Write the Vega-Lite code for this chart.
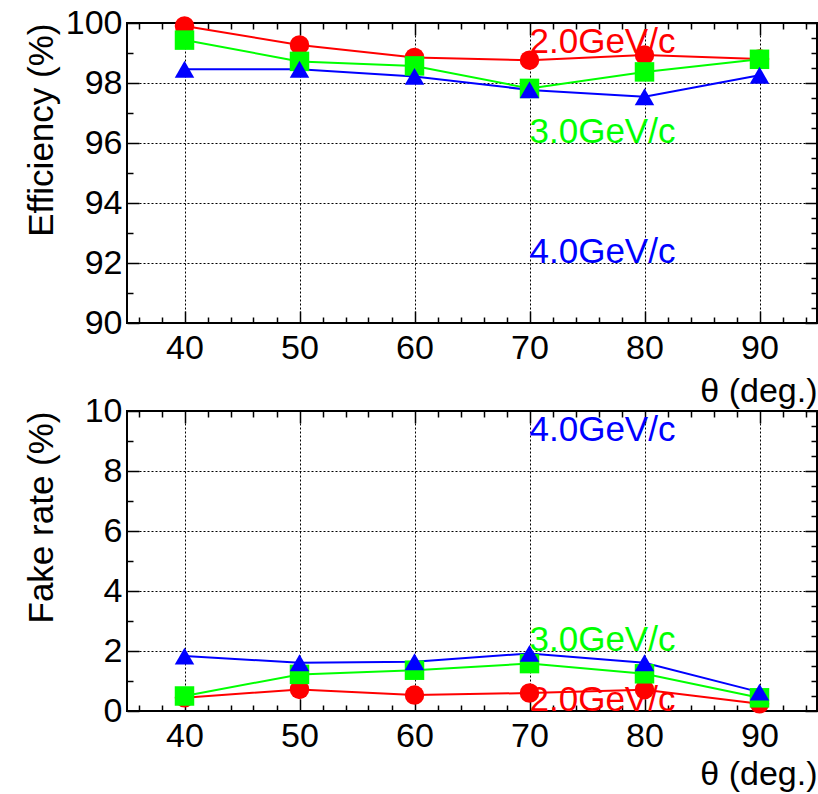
{
  "$schema": "https://vega.github.io/schema/vega-lite/v6.json",
  "background": "white",
  "padding": {"left": 22, "top": 5, "right": 3, "bottom": 2},
  "config": {
    "view": {"stroke": "black", "strokeWidth": 2},
    "font": "Liberation Sans"
  },
  "datasets": {
    "eff": [
      {"theta": 40, "series": "2.0", "value": 99.9},
      {"theta": 50, "series": "2.0", "value": 99.27},
      {"theta": 60, "series": "2.0", "value": 98.85},
      {"theta": 70, "series": "2.0", "value": 98.76},
      {"theta": 80, "series": "2.0", "value": 98.93},
      {"theta": 90, "series": "2.0", "value": 98.8},
      {"theta": 40, "series": "3.0", "value": 99.43},
      {"theta": 50, "series": "3.0", "value": 98.72},
      {"theta": 60, "series": "3.0", "value": 98.57},
      {"theta": 70, "series": "3.0", "value": 97.82},
      {"theta": 80, "series": "3.0", "value": 98.37},
      {"theta": 90, "series": "3.0", "value": 98.79},
      {"theta": 40, "series": "4.0", "value": 98.46},
      {"theta": 50, "series": "4.0", "value": 98.46},
      {"theta": 60, "series": "4.0", "value": 98.22},
      {"theta": 70, "series": "4.0", "value": 97.77},
      {"theta": 80, "series": "4.0", "value": 97.54},
      {"theta": 90, "series": "4.0", "value": 98.26}
    ],
    "fake": [
      {"theta": 40, "series": "2.0", "value": 0.44},
      {"theta": 50, "series": "2.0", "value": 0.72},
      {"theta": 60, "series": "2.0", "value": 0.53},
      {"theta": 70, "series": "2.0", "value": 0.6},
      {"theta": 80, "series": "2.0", "value": 0.71},
      {"theta": 90, "series": "2.0", "value": 0.24},
      {"theta": 40, "series": "3.0", "value": 0.5},
      {"theta": 50, "series": "3.0", "value": 1.22},
      {"theta": 60, "series": "3.0", "value": 1.36},
      {"theta": 70, "series": "3.0", "value": 1.58},
      {"theta": 80, "series": "3.0", "value": 1.24},
      {"theta": 90, "series": "3.0", "value": 0.44},
      {"theta": 40, "series": "4.0", "value": 1.83},
      {"theta": 50, "series": "4.0", "value": 1.61},
      {"theta": 60, "series": "4.0", "value": 1.64},
      {"theta": 70, "series": "4.0", "value": 1.92},
      {"theta": 80, "series": "4.0", "value": 1.61},
      {"theta": 90, "series": "4.0", "value": 0.63}
    ],
    "labEff": [
      {"theta": 70, "value": 99.0, "series": "2.0", "label": "2.0GeV/c"},
      {"theta": 70, "value": 96.0, "series": "3.0", "label": "3.0GeV/c"},
      {"theta": 70, "value": 92.0, "series": "4.0", "label": "4.0GeV/c"}
    ],
    "labFake": [
      {"theta": 70, "value": 9.0, "series": "4.0", "label": "4.0GeV/c"},
      {"theta": 70, "value": 2.0, "series": "3.0", "label": "3.0GeV/c"},
      {"theta": 70, "value": 0.0, "series": "2.0", "label": "2.0GeV/c"}
    ]
  },
  "spacing": 88,
  "bounds": "flush",
  "vconcat": [
    {
      "width": 690,
      "height": 300,
      "layer": [
        {
          "data": {"name": "eff"},
          "mark": {"type": "line", "strokeWidth": 2},
          "encoding": {
            "x": {"field": "theta", "type": "quantitative",
              "scale": {"domain": [35, 95], "nice": false, "zero": false},
              "axis": {"orient": "bottom", "values": [36,38,40,42,44,46,48,50,52,54,56,58,60,62,64,66,68,70,72,74,76,78,80,82,84,86,88,90,92,94], "format": "d",
                "labelExpr": "datum.value % 10 == 0 ? datum.label : ''", "labelFontSize": 34, "labelColor": "black", "labelPadding": 20, "labelFlush": false, "labelOverlap": false,
                "tickColor": "black", "tickWidth": 1.5, "tickSize": {"condition": {"test": "datum.value % 10 == 0", "value": -12}, "value": -6},
                "grid": true, "gridColor": "black", "gridDash": [2, 2], "gridWidth": 1, "gridOpacity": {"condition": {"test": "datum.value % 10 == 0", "value": 1}, "value": 0},
                "domain": false, "title": "θ (deg.)", "titleFontSize": 34, "titleFontWeight": "normal", "titleColor": "black", "titleAnchor": "end", "titlePadding": 3}},
            "y": {"field": "value", "type": "quantitative",
              "scale": {"domain": [90, 100], "nice": false, "zero": false},
              "axis": {"orient": "left", "values": [90,90.5,91,91.5,92,92.5,93,93.5,94,94.5,95,95.5,96,96.5,97,97.5,98,98.5,99,99.5,100], "format": "d",
                "labelExpr": "datum.value % 2 == 0 ? datum.label : ''", "labelFontSize": 34, "labelColor": "black", "labelPadding": 17, "labelFlush": false, "labelOverlap": false,
                "tickColor": "black", "tickWidth": 1.5, "tickSize": {"condition": {"test": "datum.value % 2 == 0", "value": -12}, "value": -6},
                "grid": true, "gridColor": "black", "gridDash": [2, 2], "gridWidth": 1, "gridOpacity": {"condition": {"test": "datum.value % 2 == 0", "value": 1}, "value": 0},
                "domain": false, "title": "Efficiency (%)", "titleFontSize": 35, "titleFontWeight": "normal", "titleColor": "black", "titleAnchor": "end", "titleBaseline": "bottom", "titleX": -68}},
            "color": {"field": "series", "type": "nominal", "scale": {"domain": ["2.0", "3.0", "4.0"], "range": ["#ff0000", "#00ff00", "#0000ff"]}, "legend": null}
          }
        },
        {
          "data": {"name": "eff"},
          "mark": {"type": "point", "filled": true, "opacity": 1},
          "encoding": {
            "x": {"field": "theta", "type": "quantitative",
              "scale": {"domain": [35, 95], "nice": false, "zero": false},
              "axis": {"orient": "top", "values": [36,38,40,42,44,46,48,50,52,54,56,58,60,62,64,66,68,70,72,74,76,78,80,82,84,86,88,90,92,94],
                "labels": false, "grid": false, "domain": false, "title": null,
                "tickColor": "black", "tickWidth": 1.5, "tickSize": {"condition": {"test": "datum.value % 10 == 0", "value": -12}, "value": -6}}},
            "y": {"field": "value", "type": "quantitative",
              "scale": {"domain": [90, 100], "nice": false, "zero": false},
              "axis": {"orient": "right", "values": [90,90.5,91,91.5,92,92.5,93,93.5,94,94.5,95,95.5,96,96.5,97,97.5,98,98.5,99,99.5,100],
                "labels": false, "grid": false, "domain": false, "title": null,
                "tickColor": "black", "tickWidth": 1.5, "tickSize": {"condition": {"test": "datum.value % 2 == 0", "value": -12}, "value": -6}}},
            "color": {"field": "series", "type": "nominal", "scale": {"domain": ["2.0", "3.0", "4.0"], "range": ["#ff0000", "#00ff00", "#0000ff"]}, "legend": null},
            "shape": {"field": "series", "type": "nominal", "scale": {"domain": ["2.0", "3.0", "4.0"], "range": ["circle", "square", "triangle-up"]}, "legend": null},
            "size": {"field": "series", "type": "nominal", "scale": {"domain": ["2.0", "3.0", "4.0"], "range": [380, 380, 480]}, "legend": null}
          }
        },
        {
          "data": {"name": "labEff"},
          "mark": {"type": "text", "align": "left", "baseline": "alphabetic", "fontSize": 35},
          "encoding": {
            "x": {"field": "theta", "type": "quantitative", "scale": {"domain": [35, 95], "nice": false, "zero": false}, "axis": null},
            "y": {"field": "value", "type": "quantitative", "scale": {"domain": [90, 100], "nice": false, "zero": false}, "axis": null},
            "text": {"field": "label"},
            "color": {"field": "series", "type": "nominal", "scale": {"domain": ["2.0", "3.0", "4.0"], "range": ["#ff0000", "#00ff00", "#0000ff"]}, "legend": null}
          }
        }
      ],
      "resolve": {"axis": {"x": "independent", "y": "independent"}}
    },
    {
      "width": 690,
      "height": 300,
      "layer": [
        {
          "data": {"name": "fake"},
          "mark": {"type": "line", "strokeWidth": 2},
          "encoding": {
            "x": {"field": "theta", "type": "quantitative",
              "scale": {"domain": [35, 95], "nice": false, "zero": false},
              "axis": {"orient": "bottom", "values": [36,38,40,42,44,46,48,50,52,54,56,58,60,62,64,66,68,70,72,74,76,78,80,82,84,86,88,90,92,94], "format": "d",
                "labelExpr": "datum.value % 10 == 0 ? datum.label : ''", "labelFontSize": 34, "labelColor": "black", "labelPadding": 20, "labelFlush": false, "labelOverlap": false,
                "tickColor": "black", "tickWidth": 1.5, "tickSize": {"condition": {"test": "datum.value % 10 == 0", "value": -12}, "value": -6},
                "grid": true, "gridColor": "black", "gridDash": [2, 2], "gridWidth": 1, "gridOpacity": {"condition": {"test": "datum.value % 10 == 0", "value": 1}, "value": 0},
                "domain": false, "title": "θ (deg.)", "titleFontSize": 34, "titleFontWeight": "normal", "titleColor": "black", "titleAnchor": "end", "titlePadding": -2}},
            "y": {"field": "value", "type": "quantitative",
              "scale": {"domain": [0, 10], "nice": false, "zero": false},
              "axis": {"orient": "left", "values": [0,0.5,1,1.5,2,2.5,3,3.5,4,4.5,5,5.5,6,6.5,7,7.5,8,8.5,9,9.5,10], "format": "d",
                "labelExpr": "datum.value % 2 == 0 ? datum.label : ''", "labelFontSize": 34, "labelColor": "black", "labelPadding": 17, "labelFlush": false, "labelOverlap": false,
                "tickColor": "black", "tickWidth": 1.5, "tickSize": {"condition": {"test": "datum.value % 2 == 0", "value": -12}, "value": -6},
                "grid": true, "gridColor": "black", "gridDash": [2, 2], "gridWidth": 1, "gridOpacity": {"condition": {"test": "datum.value % 2 == 0", "value": 1}, "value": 0},
                "domain": false, "title": "Fake rate (%)", "titleFontSize": 35, "titleFontWeight": "normal", "titleColor": "black", "titleAnchor": "end", "titleBaseline": "bottom", "titleX": -68}},
            "color": {"field": "series", "type": "nominal", "scale": {"domain": ["2.0", "3.0", "4.0"], "range": ["#ff0000", "#00ff00", "#0000ff"]}, "legend": null}
          }
        },
        {
          "data": {"name": "fake"},
          "mark": {"type": "point", "filled": true, "opacity": 1},
          "encoding": {
            "x": {"field": "theta", "type": "quantitative",
              "scale": {"domain": [35, 95], "nice": false, "zero": false},
              "axis": {"orient": "top", "values": [36,38,40,42,44,46,48,50,52,54,56,58,60,62,64,66,68,70,72,74,76,78,80,82,84,86,88,90,92,94],
                "labels": false, "grid": false, "domain": false, "title": null,
                "tickColor": "black", "tickWidth": 1.5, "tickSize": {"condition": {"test": "datum.value % 10 == 0", "value": -12}, "value": -6}}},
            "y": {"field": "value", "type": "quantitative",
              "scale": {"domain": [0, 10], "nice": false, "zero": false},
              "axis": {"orient": "right", "values": [0,0.5,1,1.5,2,2.5,3,3.5,4,4.5,5,5.5,6,6.5,7,7.5,8,8.5,9,9.5,10],
                "labels": false, "grid": false, "domain": false, "title": null,
                "tickColor": "black", "tickWidth": 1.5, "tickSize": {"condition": {"test": "datum.value % 2 == 0", "value": -12}, "value": -6}}},
            "color": {"field": "series", "type": "nominal", "scale": {"domain": ["2.0", "3.0", "4.0"], "range": ["#ff0000", "#00ff00", "#0000ff"]}, "legend": null},
            "shape": {"field": "series", "type": "nominal", "scale": {"domain": ["2.0", "3.0", "4.0"], "range": ["circle", "square", "triangle-up"]}, "legend": null},
            "size": {"field": "series", "type": "nominal", "scale": {"domain": ["2.0", "3.0", "4.0"], "range": [380, 380, 480]}, "legend": null}
          }
        },
        {
          "data": {"name": "labFake"},
          "mark": {"type": "text", "align": "left", "baseline": "alphabetic", "fontSize": 35},
          "encoding": {
            "x": {"field": "theta", "type": "quantitative", "scale": {"domain": [35, 95], "nice": false, "zero": false}, "axis": null},
            "y": {"field": "value", "type": "quantitative", "scale": {"domain": [0, 10], "nice": false, "zero": false}, "axis": null},
            "text": {"field": "label"},
            "color": {"field": "series", "type": "nominal", "scale": {"domain": ["2.0", "3.0", "4.0"], "range": ["#ff0000", "#00ff00", "#0000ff"]}, "legend": null}
          }
        }
      ],
      "resolve": {"axis": {"x": "independent", "y": "independent"}}
    }
  ]
}
